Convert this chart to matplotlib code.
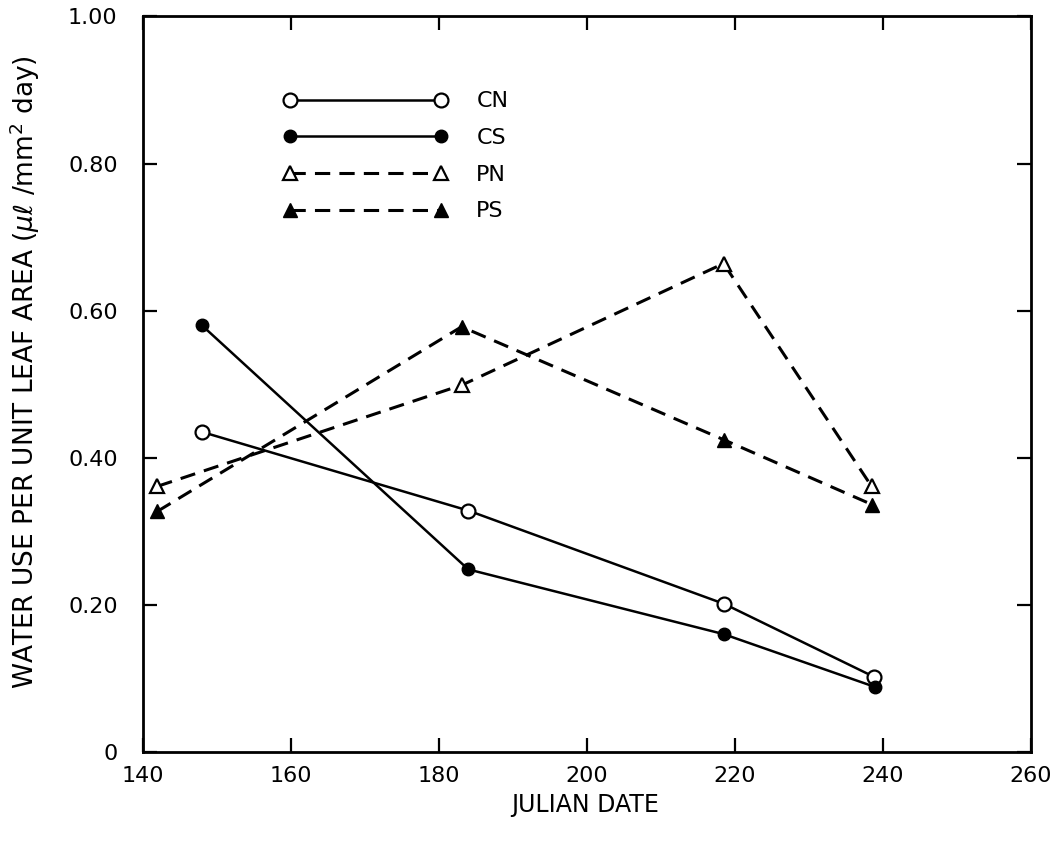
import matplotlib
matplotlib.use('Agg')
import matplotlib.pyplot as plt
import matplotlib.ticker as mticker

plt.rcParams['font.family'] = ['DejaVu Sans']

# Julian date / water use (ul per mm2 per day)
cn_day = [148, 184, 218.6, 238.8]
cn_use = [0.435, 0.328, 0.201, 0.102]
cs_day = [148, 184, 218.5, 239]
cs_use = [0.580, 0.248, 0.160, 0.088]
pn_day = [142, 183.2, 218.5, 238.5]
pn_use = [0.361, 0.499, 0.664, 0.361]
ps_day = [142, 183.1, 218.6, 238.6]
ps_use = [0.327, 0.578, 0.424, 0.336]

x_ticks = [140, 160, 180, 200, 220, 240, 260]
y_ticks = [0, 0.2, 0.4, 0.6, 0.8, 1.0]

fig = plt.figure(figsize=(10.63, 8.5), dpi=100)
ax = fig.add_axes([0.1342, 0.1156, 0.8354, 0.865])

lw = 1.8
ms = 10
dash = (0, (5, 3))
ax.plot(cn_day, cn_use, '-', color='black', lw=lw, marker='o', ms=ms,
        mfc='white', mec='black', mew=1.6, label='CN')
ax.plot(cs_day, cs_use, '-', color='black', lw=lw, marker='o', ms=ms - 1,
        mfc='black', mec='black', label='CS')
ax.plot(pn_day, pn_use, linestyle=dash, color='black', lw=lw + 0.4, marker='^', ms=ms,
        mfc='white', mec='black', mew=1.6, label='PN')
ax.plot(ps_day, ps_use, linestyle=dash, color='black', lw=lw + 0.4, marker='^', ms=ms,
        mfc='black', mec='black', label='PS')

ax.set_xlim(140, 260)
ax.set_ylim(0, 1.0)
ax.set_xticks(x_ticks)
ax.set_yticks(y_ticks)
ax.yaxis.set_major_formatter(mticker.FuncFormatter(lambda v, _: '0' if v == 0 else f'{v:.2f}'))
ax.tick_params(direction='in', length=10, width=1.6, top=True, right=True,
               labelsize=16)
ax.tick_params(axis='y', pad=18)
ax.tick_params(axis='x', pad=10)
for s in ax.spines.values():
    s.set_linewidth(2)

fig.text(585 / 1063, 1 - 805 / 850, 'JULIAN DATE', fontsize=17,
         ha='center', va='center')
fig.text(25 / 1063, 1 - 372 / 850,
         r'WATER USE PER UNIT LEAF AREA ($\mu\ell$ /mm$^2$ day)',
         fontsize=19, rotation=90, ha='center', va='center')

ax.legend(loc='upper left', bbox_to_anchor=(0.158, 0.898), frameon=False,
          borderpad=0, borderaxespad=0,
          numpoints=2, handlelength=7.4, handletextpad=1.3,
          labelspacing=0.75, fontsize=16)

fig.savefig('out.png', dpi=100)
